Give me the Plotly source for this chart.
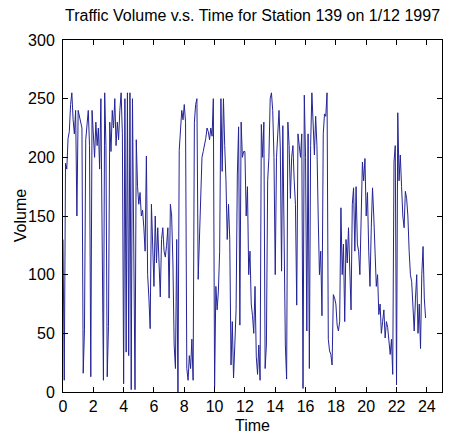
import plotly.graph_objects as go

# 5-minute traffic counts, one row per hour
hour_00 = [130, 10, 195, 190, 216, 222, 245, 255, 232, 220, 240, 150]
hour_01 = [240, 235, 228, 225, 16, 53, 215, 232, 240, 210, 13, 240]
hour_02 = [215, 200, 230, 210, 225, 190, 250, 150, 10, 255, 210, 13]
hour_03 = [56, 230, 205, 240, 225, 250, 210, 230, 215, 240, 255, 220]
hour_04 = [7, 250, 34, 255, 31, 255, 2, 250, 130, 2, 215, 175]
hour_05 = [160, 170, 150, 155, 140, 120, 201, 100, 80, 54, 160, 130]
hour_06 = [90, 150, 110, 140, 100, 81, 130, 140, 120, 115, 125, 140]
hour_07 = [80, 160, 150, 110, 40, 20, 130, 0, 206, 225, 240, 232]
hour_08 = [245, 230, 20, 10, 31, 20, 45, 10, 230, 245, 250, 96]
hour_09 = [130, 170, 200, 205, 210, 216, 225, 222, 215, 225, 218, 250]
hour_10 = [4, 90, 70, 86, 120, 250, 188, 250, 210, 180, 130, 160]
hour_11 = [130, 23, 60, 12, 40, 70, 185, 226, 57, 230, 200, 205]
hour_12 = [205, 150, 175, 100, 120, 75, 65, 50, 90, 30, 15, 40]
hour_13 = [10, 228, 200, 230, 20, 40, 180, 200, 250, 255, 240, 200]
hour_14 = [100, 200, 220, 240, 208, 103, 227, 110, 40, 11, 230, 210]
hour_15 = [165, 200, 210, 180, 160, 74, 220, 210, 200, 220, 3, 253]
hour_16 = [200, 52, 220, 20, 210, 255, 220, 202, 235, 210, 150, 100]
hour_17 = [120, 65, 220, 237, 235, 255, 45, 35, 32, 23, 83, 80]
hour_18 = [75, 57, 52, 60, 157, 100, 126, 60, 130, 110, 140, 100]
hour_19 = [70, 160, 174, 120, 175, 126, 120, 100, 165, 196, 180, 199]
hour_20 = [150, 170, 120, 90, 140, 174, 150, 120, 90, 100, 66, 75]
hour_21 = [50, 60, 70, 46, 60, 55, 40, 32, 45, 15, 196, 210]
hour_22 = [6, 238, 180, 202, 175, 150, 140, 171, 165, 150, 120, 100]
hour_23 = [94, 70, 52, 80, 100, 50, 75, 37, 100, 124, 80, 63]

hours = [hour_00, hour_01, hour_02, hour_03, hour_04, hour_05, hour_06, hour_07,
         hour_08, hour_09, hour_10, hour_11, hour_12, hour_13, hour_14, hour_15,
         hour_16, hour_17, hour_18, hour_19, hour_20, hour_21, hour_22, hour_23]

volume = [v for row in hours for v in row]
time = [i / 12.0 for i in range(len(volume))]

x_ticks = list(range(0, 25, 2))
y_ticks = list(range(0, 301, 50))

font = "Liberation Sans, Arial, sans-serif"

fig = go.Figure()

fig.add_trace(go.Scatter(
    x=time,
    y=volume,
    mode="lines",
    line=dict(color="rgb(36,36,150)", width=1),
    showlegend=False))

# the page body adds an 8px margin, so the figure is 8px smaller than the window
fig.update_layout(
    width=446,
    height=427,
    margin=dict(l=55, r=12, t=32, b=43),
    paper_bgcolor="white",
    plot_bgcolor="white",
    font=dict(family=font, size=15, color="black"))

axis_style = dict(
    showgrid=False,
    zeroline=False,
    showline=True,
    linecolor="black",
    linewidth=1,
    mirror="ticks",
    ticks="inside",
    ticklen=5,
    tickcolor="black",
    tickfont=dict(size=16))

fig.update_xaxes(range=[0, 25], tickvals=x_ticks, **axis_style)
fig.update_yaxes(range=[0, 300], tickvals=y_ticks, ticklabelstandoff=4,
                 **axis_style)

fig.add_annotation(
    text="Traffic Volume v.s. Time for Station 139 on 1/12 1997",
    xref="paper", yref="paper", x=0.5, y=1.071,
    xanchor="center", yanchor="middle", showarrow=False,
    font=dict(size=16))
fig.add_annotation(
    text="Time", xref="paper", yref="paper", x=0.5, y=-0.095,
    xanchor="center", yanchor="middle", showarrow=False,
    font=dict(size=16))
fig.add_annotation(
    text="Volume", xref="paper", yref="paper", x=-0.113, y=0.5,
    xanchor="center", yanchor="middle", textangle=-90, showarrow=False,
    font=dict(size=16))

fig.write_html("out.html")
